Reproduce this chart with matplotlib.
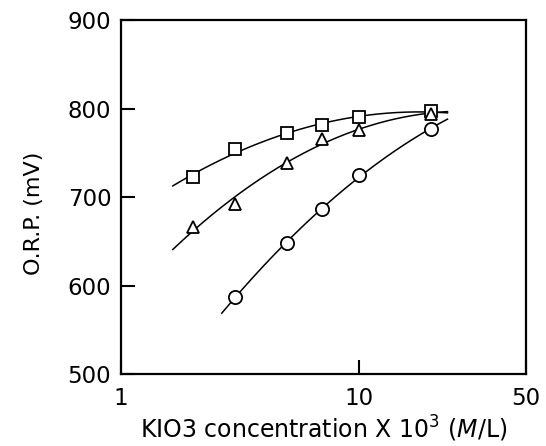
import numpy as np
import matplotlib
matplotlib.use("Agg")
import matplotlib.pyplot as plt
from matplotlib.ticker import FixedLocator, NullLocator, FixedFormatter

# Data
sq_x = [2, 3, 5, 7, 10, 20]
sq_y = [723, 754, 772, 782, 790, 797]
tri_x = [2, 3, 5, 7, 10, 20]
tri_y = [666, 692, 739, 766, 776, 794]
cir_x = [3, 5, 7, 10, 20]
cir_y = [587, 648, 687, 725, 777]

sq_range = (1.65, 23.5)
tri_range = (1.65, 23.5)
cir_range = (2.65, 23.5)

x_ticks = [1, 10, 50]
x_ticklabels = ["1", "10", "50"]
y_ticks = [500, 600, 700, 800, 900]

plt.rcParams['font.family'] = ['DejaVu Sans']

fig = plt.figure(figsize=(5.46, 4.46), dpi=100)
ax = fig.add_axes([0.2216, 0.161, 0.741, 0.794])

def fit_curve(xs, ys, rng, deg=2):
    c = np.polyfit(np.log10(xs), ys, deg)
    xx = np.logspace(np.log10(rng[0]), np.log10(rng[1]), 200)
    return xx, np.polyval(c, np.log10(xx))

for xs, ys, rng, mk, ms in [(sq_x, sq_y, sq_range, 's', 8),
                            (tri_x, tri_y, tri_range, '^', 9),
                            (cir_x, cir_y, cir_range, 'o', 9.5)]:
    xx, yy = fit_curve(xs, ys, rng)
    ax.plot(xx, yy, color='black', lw=1.1, zorder=2)
    ax.plot(xs, ys, linestyle='none', marker=mk, markersize=ms,
            markerfacecolor='white', markeredgecolor='black',
            markeredgewidth=1.3, zorder=3)

ax.set_xscale('log')
ax.set_xlim(1, 50)
ax.set_ylim(500, 900)
ax.xaxis.set_major_locator(FixedLocator(x_ticks))
ax.xaxis.set_major_formatter(FixedFormatter(x_ticklabels))
ax.xaxis.set_minor_locator(NullLocator())
ax.yaxis.set_major_locator(FixedLocator(y_ticks))
ax.yaxis.set_minor_locator(NullLocator())
ax.tick_params(axis='both', direction='in', length=10, width=1.5,
               labelsize=16.5, colors='black')
ax.tick_params(axis='x', pad=9)
ax.tick_params(axis='y', pad=7)
for s in ax.spines.values():
    s.set_linewidth(1.6)

ax.set_xlabel(r"KIO3 concentration X 10$^3$ ($\mathit{M}$/L)", fontsize=17)
ax.xaxis.set_label_coords(0.5, -0.112)
ax.set_ylabel("O.R.P. (mV)", fontsize=16)
ax.yaxis.set_label_coords(-0.19, 0.453)

fig.savefig("out.png", dpi=100)
